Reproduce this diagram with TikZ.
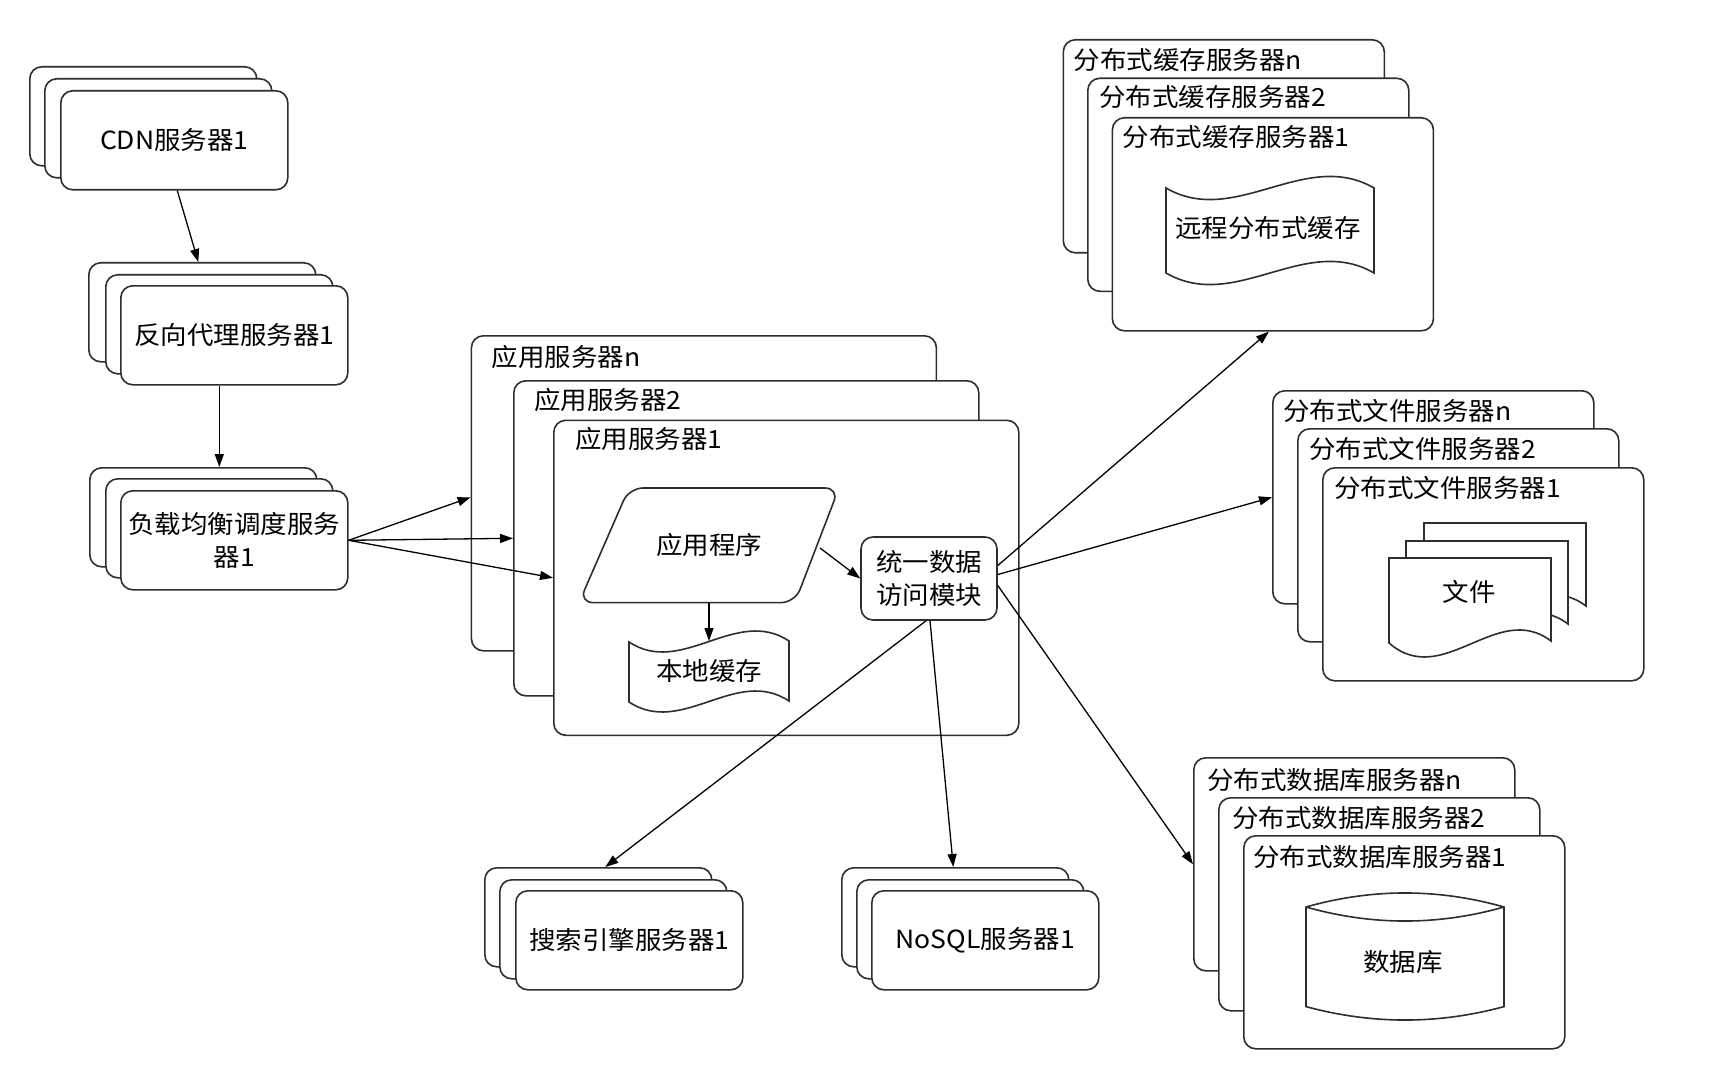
\documentclass[tikz,border=0pt]{standalone}
\usepackage{fontspec}
\newfontfamily\cjkf[FakeStretch=1.06]{Noto Sans CJK SC}
\newcommand\zhfont{\cjkf\fontsize{25}{33}\selectfont}
\usetikzlibrary{arrows.meta}
\begin{document}
\begin{tikzpicture}[x=1pt,y=-1pt,
  lay/.style={draw=black!82, line width=1.6pt, fill=white, rounded corners=12pt,
    anchor=north west, inner sep=0pt, font=\zhfont, align=center},
  srv/.style={lay, minimum width=227pt, minimum height=99pt},
  big/.style={lay, minimum width=321pt, minimum height=213pt},
  appbox/.style={lay, minimum width=465pt, minimum height=315pt},
  lbl/.style={anchor=west, inner sep=0pt, font=\zhfont},
  txt/.style={font=\zhfont, align=center, inner sep=0pt},
  arr/.style={draw=black, line width=1.3pt, -{Triangle[length=13pt,width=9pt]}},
  shp/.style={draw=black!82, line width=1.6pt, fill=white}
]
\useasboundingbox (0,0) rectangle (1730,1078);
\fill[white] (0,0) rectangle (1730,1078);

% CDN
\node[srv] (cdn3) at (29,66) {};
\node[srv] (cdn2) at (44,78) {};
\node[srv] (cdn) at (60,90) {CDN服务器1};

% reverse proxy
\node[srv] (rev3) at (88,262) {};
\node[srv] (rev2) at (105,274) {};
\node[srv] (rev) at (120,285) {反向代理服务器1};

% load balancer
\node[srv] (lb3) at (89,467) {};
\node[srv] (lb2) at (105,478) {};
\node[srv] (lb) at (120,490) {负载均衡调度服务\\器1};

% search
\node[srv] (search3) at (484,867) {};
\node[srv] (search2) at (499,879) {};
\node[srv] (search) at (515,890) {搜索引擎服务器1};

% nosql
\node[srv] (nosql3) at (841,867) {};
\node[srv] (nosql2) at (856,879) {};
\node[srv] (nosql) at (871,890) {NoSQL服务器1};

% application servers
\node[appbox] (appN) at (470.6,335) {};
\node[lbl] (appNl) at (491.5,357) {应用服务器n};
\node[appbox] (app2) at (513,380) {};
\node[lbl] (app2l) at (534,400) {应用服务器2};
\node[appbox] (app1) at (553,419.5) {};
\node[lbl] (app1l) at (575,439) {应用服务器1};

% application program
\draw[shp, rounded corners=14pt] (629,488) -- (839,488) -- (795,602.6) -- (579,602.6) -- cycle;
\node[txt, minimum width=200pt, minimum height=114.6pt] (prog) at (709,545.3) {应用程序};
\coordinate (progR) at (820,548);

% local cache
\draw[shp] (629,642) .. controls (682,677) and (736,606) .. (789,641) -- (789,701)
  .. controls (736,666) and (682,737) .. (629,702) -- cycle;
\node[txt] (local) at (709,671) {本地缓存};
\coordinate (localtop) at (709,641);

% unified data access
\node[lay, anchor=center, minimum width=136pt, minimum height=83pt] (uni) at (929,578.5) {统一数据\\访问模块};

% cache servers
\node[big] (cacheN) at (1062.5,39) {};
\node[lbl] (cacheNl) at (1073.5,60) {分布式缓存服务器n};
\node[big] (cache2) at (1087,77.5) {};
\node[lbl] (cache2l) at (1099,97.5) {分布式缓存服务器2};
\node[big] (cache1) at (1111.6,117) {};
\node[lbl] (cache1l) at (1122.5,137.5) {分布式缓存服务器1};
\draw[shp] (1166,188) .. controls (1235,228) and (1305,148) .. (1374,188) -- (1374,273)
  .. controls (1305,233) and (1235,313) .. (1166,273) -- cycle;
\node[txt] (remote) at (1268,228) {远程分布式缓存};

% file servers
\node[big] (fileN) at (1272,390) {};
\node[lbl] (fileNl) at (1283,411) {分布式文件服务器n};
\node[big] (file2) at (1297,428) {};
\node[lbl] (file2l) at (1309,449) {分布式文件服务器2};
\node[big] (file1) at (1322,467) {};
\node[lbl] (file1l) at (1334,487.5) {分布式文件服务器1};
\foreach \s in {35,17,0}{
  \draw[shp, shift={(\s,-\s)}] (1389,558) -- (1551,558) -- (1551,641)
    .. controls (1497,600) and (1443,690) .. (1389,643) -- cycle;
}
\node[txt] (files) at (1469,592) {文件};

% database servers
\node[big] (dbN) at (1193,757) {};
\node[lbl] (dbNl) at (1207,780) {分布式数据库服务器n};
\node[big] (db2) at (1218,797) {};
\node[lbl] (db2l) at (1232,818) {分布式数据库服务器2};
\node[big] (db1) at (1243,835) {};
\node[lbl] (db1l) at (1253,857) {分布式数据库服务器1};
\draw[shp] (1306,907) -- (1306,1006.6) .. controls (1372,1024.5) and (1438,1024.5) .. (1504,1006.6)
  -- (1504,907) .. controls (1438,888.3) and (1372,888.3) .. (1306,907) -- cycle;
\draw[shp, fill=none] (1306,907) .. controls (1372,925.7) and (1438,925.7) .. (1504,907);
\node[txt] (dbt) at (1403,962) {数据库};

% connectors
\draw[arr] ([xshift=3pt]cdn.south) -- ([xshift=-4pt]rev3.north);
\draw[arr] ([xshift=-15pt]rev.south) -- ([xshift=16pt]lb3.north);
\draw[arr] (lb.east) -- ([yshift=-4pt]appN.west);
\draw[arr] (lb.east) -- (app2.west);
\draw[arr] (lb.east) -- (app1.west);
\draw[arr] (prog.south) -- (localtop);
\draw[arr] (progR) -- (uni.west);
\draw[arr] ([yshift=13pt]uni.east) -- ([xshift=-4pt]cache1.south);
\draw[arr] ([yshift=4pt]uni.east) -- (fileN.west);
\draw[arr] ([yshift=-7pt]uni.east) -- (dbN.west);
\draw[arr] ([xshift=1pt]uni.south) -- ([xshift=-2pt]nosql3.north);
\draw[arr] ([xshift=-3pt]uni.south) -- ([xshift=7pt]search3.north);
\end{tikzpicture}
\end{document}
